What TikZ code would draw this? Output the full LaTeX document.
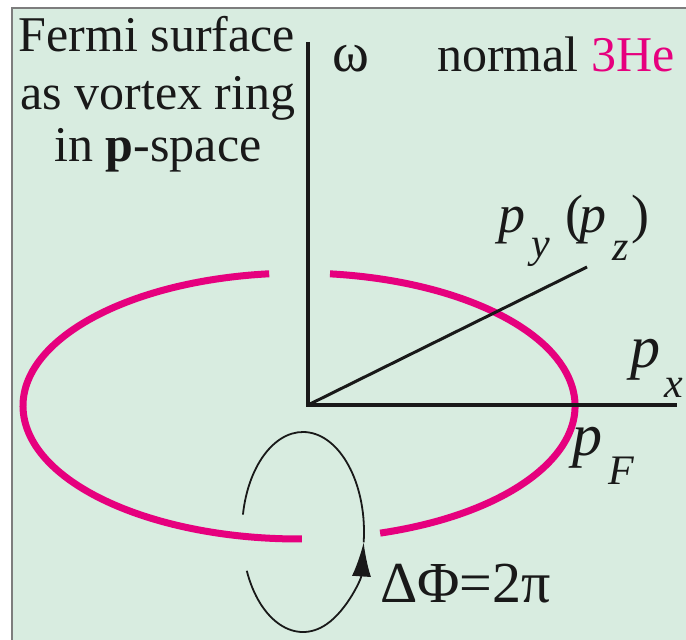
\documentclass[tikz,border=0pt]{standalone}
\usepackage{fontspec}
\setmainfont{Liberation Serif}
\usetikzlibrary{arrows.meta}
\definecolor{bgmint}{RGB}{216,236,224}
\definecolor{ringpink}{RGB}{230,0,126}
\definecolor{framegray}{RGB}{125,125,125}
\definecolor{ink}{RGB}{25,25,25}
\begin{document}
\begin{tikzpicture}[x=1pt,y=1pt,
  lbl/.style={inner sep=0pt, outer sep=0pt, text=ink, font=\fontsize{50}{55}\selectfont},
  ilbl/.style={lbl, font=\fontsize{54}{58}\selectfont\itshape},
  biglbl/.style={lbl, font=\fontsize{60}{64}\selectfont\itshape},
  sublbl/.style={lbl, font=\fontsize{42}{46}\selectfont\itshape},
  ring/.style={draw=ringpink, line width=7pt},
  axisline/.style={draw=ink, line width=4pt},
  circline/.style={draw=ink, line width=1.8pt}]
\useasboundingbox (0,0) rectangle (686,640);
\fill[bgmint] (12,0) rectangle (686,632);
\draw[framegray, line width=2.5pt] (12,0) -- (12,632) -- (686,632);
% ring
\coordinate (rc) at (299,234);
\draw[ring] (rc) ++(287.1:276 and 133) arc[start angle=287.1, end angle=443.55, x radius=276, y radius=133];
\draw[ring] (rc) ++(96.2:276 and 133) arc[start angle=96.2, end angle=270.6, x radius=276, y radius=133];
% axes
\coordinate (O) at (308,235);
\coordinate (wtop) at (308,598);
\coordinate (xend) at (677,235);
\coordinate (yend) at (587,373);
\draw[axisline] (wtop) -- (O) -- (xend);
\draw[axisline, line width=3pt] (O) -- (yend);
% circulation loop
\coordinate (lc) at (303,108);
\draw[circline, -{Latex[length=34pt,width=19pt]}] (lc) ++(202.8:61 and 100) arc[start angle=202.8, end angle=354, x radius=61, y radius=100];
\draw[circline] (lc) ++(354:61 and 100) arc[start angle=354, end angle=530, x radius=61, y radius=100];
% texts
\node[lbl, anchor=base] (f1) at (157,588) {Fermi surface};
\node[lbl, anchor=base] (f2) at (158,530) {as vortex ring};
\node[lbl, anchor=base] (f3) at (158,478) {in \textbf{p}-space};
\node[lbl, anchor=base west, font=\fontsize{56}{60}\selectfont] (om) at (332,568) {ω};
\node[lbl, anchor=base west] (nm) at (437,568) {normal \textcolor{ringpink}{3He}};
\node[ilbl, anchor=base west] (py) at (498,407) {p};
\node[sublbl, anchor=base west] (pysub) at (531,382) {y};
\node[lbl, anchor=base west, font=\fontsize{54}{58}\selectfont] (lpar) at (565,407) {(};
\node[ilbl, anchor=base west] (pz) at (579,407) {p};
\node[sublbl, anchor=base west] (pzsub) at (612,379) {z};
\node[lbl, anchor=base west, font=\fontsize{54}{58}\selectfont] (rpar) at (631,407) {)};
\node[biglbl, anchor=base west] (px) at (630,272) {p};
\node[sublbl, anchor=base west] (pxsub) at (664,242) {x};
\node[biglbl, anchor=base west] (pf) at (572,184) {p};
\node[sublbl, anchor=base west] (pfsub) at (608,155) {F};
\node[lbl, anchor=base west, font=\fontsize{58}{62}\selectfont] (dphi) at (380,37) {ΔΦ=2π};
\end{tikzpicture}
\end{document}
